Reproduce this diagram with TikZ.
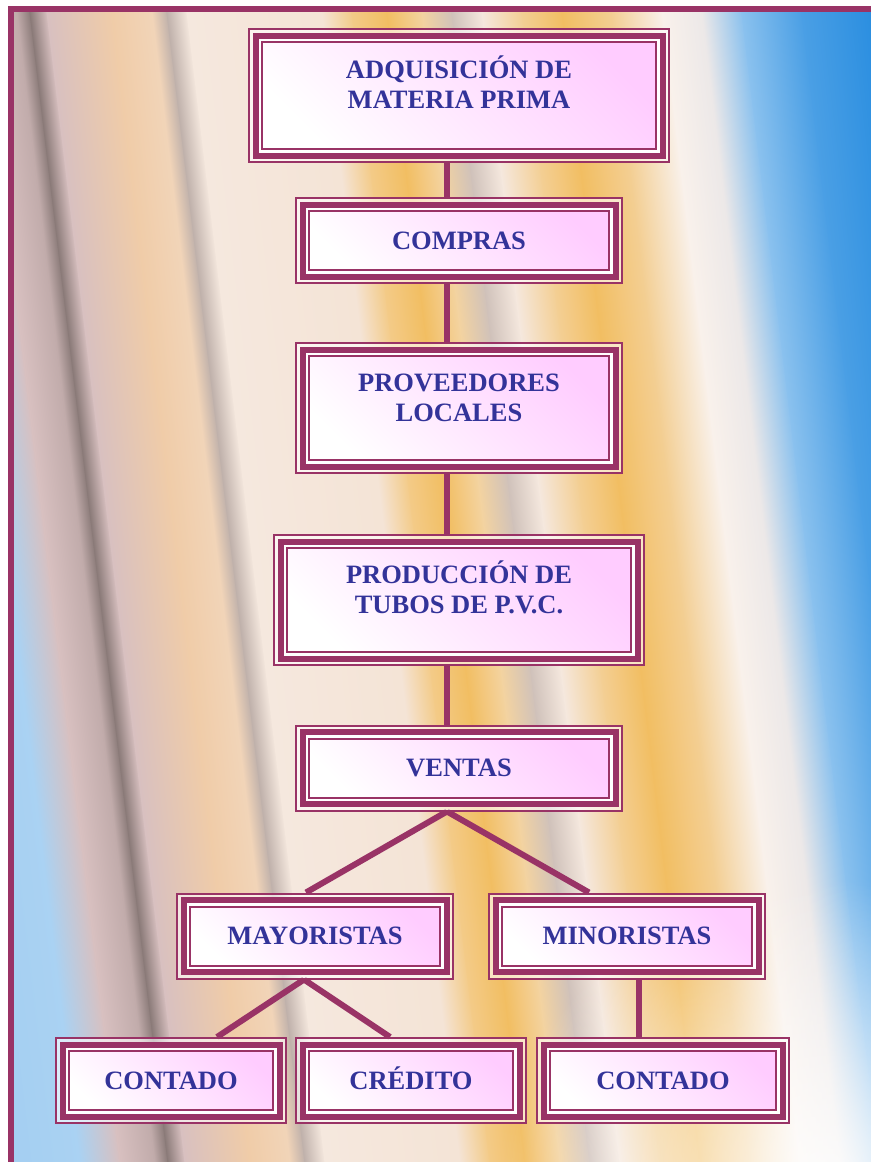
\documentclass[tikz,border=0pt]{standalone}
\usepackage{fontspec}
\setmainfont{Liberation Serif}
\usetikzlibrary{positioning,fadings}

\definecolor{plum}{HTML}{993366}
\definecolor{ink}{HTML}{333399}
\definecolor{blush}{HTML}{FFCCFF}
\definecolor{sky}{HTML}{2A8EE0}
\definecolor{taupe}{HTML}{8A7A78}
\definecolor{rosegrey}{HTML}{D8C0C0}
\definecolor{sand}{HTML}{F0CCA8}
\definecolor{cream}{HTML}{F5E8DE}
\definecolor{amber}{HTML}{F2BE62}
\definecolor{mist}{HTML}{ECE8E8}

\tikzfading[name=glow, inner color=transparent!0, outer color=transparent!100]

\newcommand{\lift}{\\[-4.5pt]\mbox{}}

\begin{document}
\begin{tikzpicture}[x=0.5pt, y=-0.5pt, node distance=84pt]
        \tikzstyle{boxbase} = [rectangle, draw=plum, line width=3pt, outer sep=3.75pt, inner sep=0pt, bottom color=white, top color=blush, shading angle=-45, text=ink, font=\bfseries\fontsize{13.25}{15}\selectfont, align=center, minimum width=156.5pt]
        \tikzstyle{block} = [boxbase, minimum height=36pt, text height=8.75pt, text depth=0pt]
        \tikzstyle{tall} = [boxbase, minimum height=58.5pt]
        \tikzstyle{line} = [draw=plum, line width=3pt]
        \tikzstyle{rim} = [draw=plum, line width=1pt]
        \tikzstyle{rimgap} = [draw=white, line width=1.25pt]

        % backdrop: blurred pipes
        \useasboundingbox (0,0) rectangle (871,1162);
        \fill [white] (0,0) rectangle (871,1162);
        \begin{scope}
            \clip (14,12) rectangle (871,1162);
            \begin{scope}[transform canvas={xslant=-0.12}]
                \foreach \xa/\xb/\ca/\cb in {-180/-60/sky!45!white/sky!40!white, -60/-20/sky!40!white/rosegrey, -20/15/rosegrey/rosegrey!70!taupe, 15/28/rosegrey!70!taupe/taupe, 28/45/taupe/rosegrey, 45/110/rosegrey/sand, 110/150/sand/sand!70!cream, 150/165/sand!70!cream/taupe!50!cream, 165/185/taupe!50!cream/cream, 185/320/cream/cream!85!sand, 320/350/cream!85!sand/amber!70!cream, 350/385/amber!70!cream/amber, 385/420/amber/amber!50!cream, 420/450/amber!50!cream/taupe!35!cream, 450/480/taupe!35!cream/cream, 480/520/cream/amber!60!cream, 520/560/amber!60!cream/amber, 560/610/amber/amber!60!cream, 610/660/amber!60!cream/cream!60!white, 660/700/cream!60!white/mist, 700/740/mist/sky!55!white, 740/800/sky!55!white/sky!85!white, 800/871/sky!85!white/sky}
                    \shade [left color=\ca, right color=\cb] (\xa,0) rectangle (\xb+1,1170);
            \end{scope}
            \fill [white, opacity=.85, path fading=glow] (830,1180) ellipse [x radius=330, y radius=300];
        \end{scope}
        \draw [plum, line width=3pt] (11,1162) -- (11,9) -- (871,9);

        % chart
        \node [tall, minimum width=203.5pt, minimum height=60pt] (adq) at (459,95.5) {ADQUISICI\smash{Ó}N DE\\MATERIA PRIMA\lift};
        \node [block, below of=adq, node distance=72.5pt] (compras) {COMPRAS};
        \node [tall, below of=compras, node distance=83.75pt] (prov) {PROVEEDORES\\LOCALES\lift};
        \node [tall, minimum width=178.5pt, below of=prov, node distance=96pt] (prod) {PRODUCCI\smash{Ó}N DE\\TUBOS DE P.V.C.\lift};
        \node [block, below of=prod] (ventas) {VENTAS};
        \node [block, minimum width=131.5pt, below of=ventas, xshift=-72pt] (mayor) {MAYORISTAS};
        \node [block, minimum width=131.5pt, right of=mayor, node distance=156pt] (minor) {MINORISTAS};
        \node [block, minimum width=108.5pt, below of=mayor, node distance=72.25pt, xshift=-72pt] (cont1) {CONTADO};
        \node [block, minimum width=108.5pt, right of=cont1, node distance=120pt] (cred) {CRÉDITO};
        \node [block, minimum width=119.5pt, right of=cred, node distance=126pt] (cont2) {CONTADO};

        \coordinate (spine) at (447,0);
        \coordinate (drop) at (639,0);
        \path [line] (adq.south -| spine) -- (compras.north -| spine);
        \path [line] (compras.south -| spine) -- (prov.north -| spine);
        \path [line] (prov.south -| spine) -- (prod.north -| spine);
        \path [line] (prod.south -| spine) -- (ventas.north -| spine);
        \path [line] (ventas.south -| spine) -- ([xshift=-4.5pt]mayor.north);
        \path [line] (ventas.south -| spine) -- ([xshift=-19pt]minor.north);
        \path [line] ([xshift=-5.5pt]mayor.south) -- ([xshift=23pt]cont1.north);
        \path [line] ([xshift=-5.5pt]mayor.south) -- ([xshift=-10.5pt]cred.north);
        \path [line] (minor.south -| drop) -- (cont2.north -| drop);

        % thin-thick-thin frames
        \foreach \n in {adq,compras,prov,prod,ventas,mayor,minor,cont1,cred,cont2} {
            \draw [rimgap, opacity=.6] ([shift={(3.25,3.25)}]\n.north west) rectangle ([shift={(-3.25,-3.25)}]\n.south east);
            \draw [rimgap] ([shift={(11.75,11.75)}]\n.north west) rectangle ([shift={(-11.75,-11.75)}]\n.south east);
            \draw [rim] ([shift={(1,1)}]\n.north west) rectangle ([shift={(-1,-1)}]\n.south east);
            \draw [rim] ([shift={(14,14)}]\n.north west) rectangle ([shift={(-14,-14)}]\n.south east);
        }
    \end{tikzpicture}
\end{document}
